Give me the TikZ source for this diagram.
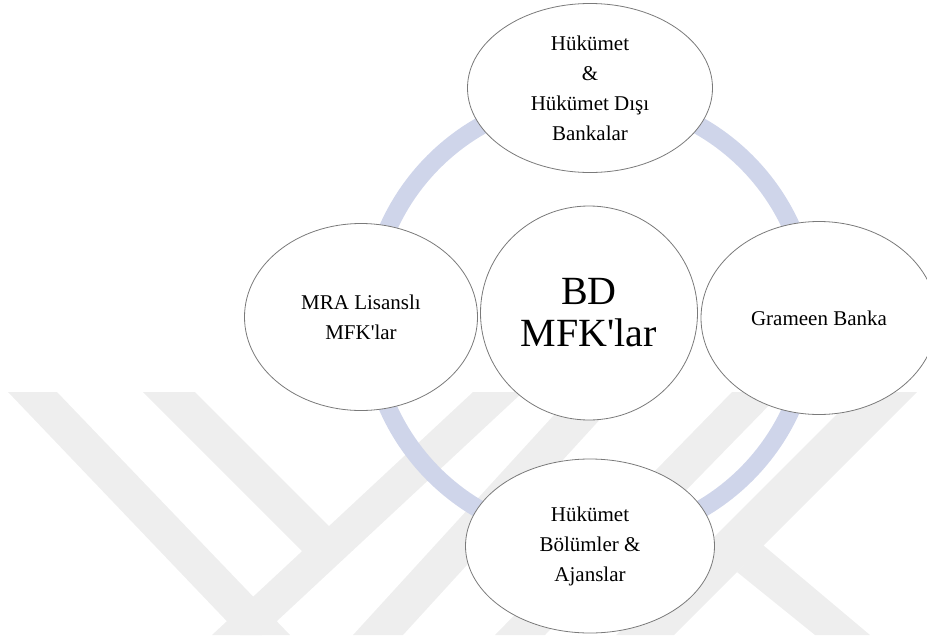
\documentclass[tikz,border=0pt]{standalone}
\usepackage{fontspec}
\setmainfont{Liberation Serif}
\usetikzlibrary{shapes.geometric}
\definecolor{ringblue}{HTML}{CFD5EA}
\definecolor{rimgray}{HTML}{7A7A7A}
\definecolor{markgray}{HTML}{EEEEEE}
\tikzset{
  bubble/.style={ellipse,draw=rimgray,fill=white,line width=0.8pt,inner sep=0pt,align=center,font=\fontsize{21}{30}\selectfont},
  hubbubble/.style={bubble,font=\fontsize{40}{42}\selectfont},
  ringline/.style={draw=ringblue,line width=18pt},
  markband/.style={fill=markgray}
}

\begin{document}
\begin{tikzpicture}[x=1pt,y=-1pt]
  \useasboundingbox (0,0) rectangle (927,635);
  \clip (0,0) rectangle (927,635);
  % faint logo in the background
  \foreach \xa/\xb/\xc/\xd/\yc/\yd in {8/57/290/240/635/635, 143/195/353/302/550/551,
                                       473/523/262/212/635/635, 575/625/403/353/635/635,
                                       732/782/545/495/635/635, 859/917/674/616/635/635}
    \fill[markband] (\xa,392) -- (\xb,392) -- (\xc,\yc) -- (\xd,\yd) -- cycle;
  \fill[markband] (763,545) -- (870,635) -- (815,635) -- (737,572) -- cycle;
  % ring behind the bubbles
  \coordinate (hub) at (590,318);
  \draw[ringline] (hub) circle [radius=221pt];
  \node[bubble,minimum width=245pt,minimum height=169pt] (gov) at (590,88)
    {Hükümet\\\&\\Hükümet Dışı\\Bankalar};
  \node[bubble,minimum width=233pt,minimum height=187pt] (mra) at (361,317)
    {MRA Lisanslı\\MFK\textquotesingle lar};
  \node[bubble,minimum width=236pt,minimum height=193pt] (grameen) at (819,318)
    {Grameen Banka};
  \node[bubble,minimum width=249pt,minimum height=174pt] (dept) at (590,546)
    {Hükümet\\Bölümler \&\\Ajanslar};
  \node[hubbubble,minimum width=217pt,minimum height=214pt] (bd) at (589,313)
    {BD\\MFK\textquotesingle lar};
\end{tikzpicture}
\end{document}
